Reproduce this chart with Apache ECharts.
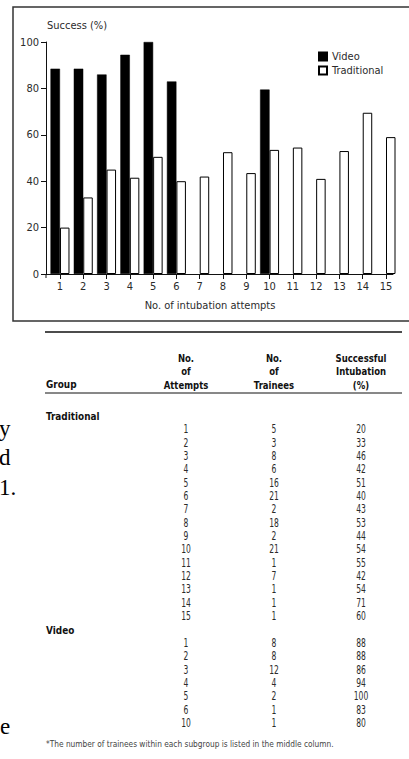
<!DOCTYPE html>
<html>
<head>
<meta charset="utf-8">
<script src="https://cdn.jsdelivr.net/npm/echarts@6/dist/echarts.min.js"></script>
<style>
html,body{margin:0;padding:0;background:#fff;}
#c{width:409px;height:759px;}
</style>
</head>
<body>
<div id="c"></div>
<script>
// ---- chart data ----
const attempts = [1, 2, 3, 4, 5, 6, 7, 8, 9, 10, 11, 12, 13, 14, 15];
const videoSuccess = [88.5, 88.5, 86, 94.5, 100, 83, null, null, null, 79.5, null, null, null, null, null];
const traditionalSuccess = [20, 33, 45, 41.5, 50.5, 40, 42, 52.5, 43.5, 53.5, 54.5, 41, 53, 69.5, 59];
const yTicks = [0, 20, 40, 60, 80, 100];

// ---- table data ----
const tableHeaders = ["Group", "No.\nof\nAttempts", "No.\nof\nTrainees", "Successful\nIntubation\n(%)"];
const tradAttempts = [1, 2, 3, 4, 5, 6, 7, 8, 9, 10, 11, 12, 13, 14, 15];
const tradTrainees = [5, 3, 8, 6, 16, 21, 2, 18, 2, 21, 1, 7, 1, 1, 1];
const tradPercent = [20, 33, 46, 42, 51, 40, 43, 53, 44, 54, 55, 42, 54, 71, 60];
const videoAttempts = [1, 2, 3, 4, 5, 6, 10];
const videoTrainees = [8, 8, 12, 4, 2, 1, 1];
const videoPercent = [88, 88, 86, 94, 100, 83, 80];
const footnote = "*The number of trainees within each subgroup is listed in the middle column.";
const strayText = ["y", "d", "1.", "e"];

const SANS = "'Liberation Sans Narrow', 'DejaVu Sans Condensed', 'Liberation Sans', sans-serif";
const SERIF = "'Liberation Serif', 'DejaVu Serif', serif";
const TXT = '#2b2b2b';

const chart = echarts.init(document.getElementById('c'), null, {renderer: 'svg'});

const graphics = [];
// chart frame
graphics.push({type: 'rect', shape: {x: 13, y: 7, width: 420, height: 314}, style: {fill: 'none', stroke: '#333', lineWidth: 1.5}, z: 0});
graphics.push({type: 'text', x: 47, y: 25, style: {text: 'Success (%)', font: '11px ' + SANS, fill: TXT, align: 'left', verticalAlign: 'middle'}});
graphics.push({type: 'text', x: 210, y: 305, style: {text: 'No. of intubation attempts', font: '11px ' + SANS, fill: TXT, align: 'center', verticalAlign: 'middle'}});
// short extension of the y axis below zero
graphics.push({type: 'line', shape: {x1: 46, y1: 274, x2: 46, y2: 278}, style: {stroke: '#111', lineWidth: 1}});

// table rules
graphics.push({type: 'line', shape: {x1: 45, y1: 332, x2: 402, y2: 332}, style: {stroke: '#111', lineWidth: 1.5}});
graphics.push({type: 'line', shape: {x1: 45, y1: 393, x2: 402, y2: 393}, style: {stroke: '#111', lineWidth: 1}});

const colX = [46, 186, 274, 361];
const boldFont = 'bold 11px ' + SANS;
const numFont = '13px ' + SANS;
const NUM_SX = 0.65;
graphics.push({type: 'text', x: colX[0], y: 384, scaleX: 0.9, style: {text: tableHeaders[0], font: boldFont, fill: '#111', align: 'left', verticalAlign: 'middle'}});
for (let k = 1; k < 4; k++) {
  graphics.push({type: 'text', x: colX[k], y: 391, scaleX: 0.86, style: {text: tableHeaders[k], font: boldFont, fill: '#111', align: 'center', verticalAlign: 'bottom', lineHeight: 13.5}});
}
graphics.push({type: 'text', x: colX[0], y: 416, scaleX: 0.9, style: {text: 'Traditional', font: boldFont, fill: '#111', align: 'left', verticalAlign: 'middle'}});
tradAttempts.forEach((a, i) => {
  const y = 429 + i * 13.36;
  [a, tradTrainees[i], tradPercent[i]].forEach((v, k) => {
    graphics.push({type: 'text', x: colX[k + 1], y: y, scaleX: NUM_SX, style: {text: String(v), font: numFont, fill: TXT, align: 'center', verticalAlign: 'middle'}});
  });
});
graphics.push({type: 'text', x: colX[0], y: 630, scaleX: 0.9, style: {text: 'Video', font: boldFont, fill: '#111', align: 'left', verticalAlign: 'middle'}});
videoAttempts.forEach((a, i) => {
  const y = 642.7 + i * 13.33;
  [a, videoTrainees[i], videoPercent[i]].forEach((v, k) => {
    graphics.push({type: 'text', x: colX[k + 1], y: y, scaleX: NUM_SX, style: {text: String(v), font: numFont, fill: TXT, align: 'center', verticalAlign: 'middle'}});
  });
});
graphics.push({type: 'text', x: 46, y: 744, scaleX: 0.87, style: {text: footnote, font: '9.5px ' + SANS, fill: '#444', align: 'left', verticalAlign: 'middle'}});

// stray body text fragments at the left edge
const strayPos = [[-1, 417], [-1, 446], [-1, 476], [0, 715]];
strayText.forEach((t, i) => {
  graphics.push({type: 'text', x: strayPos[i][0], y: strayPos[i][1], style: {text: t, font: '23px ' + SERIF, fill: '#000', align: 'left', verticalAlign: 'top'}});
});

const option = {
  animation: false,
  backgroundColor: '#fff',
  textStyle: {fontFamily: SANS},
  grid: {left: 46, top: 42, width: 347, height: 232, containLabel: false},
  legend: {
    orient: 'vertical', left: 318, top: 51, padding: 0, itemWidth: 8, itemHeight: 8, itemGap: 3,
    icon: 'rect',
    textStyle: {fontSize: 11, color: TXT, fontFamily: SANS},
    data: ['Video', 'Traditional']
  },
  xAxis: {
    type: 'value', min: 0.4, max: 15.3,
    axisLine: {show: true, lineStyle: {color: '#111', width: 1}},
    axisTick: {show: true, length: 5, lineStyle: {color: '#111'}, customValues: attempts},
    axisLabel: {color: TXT, fontSize: 11, margin: 7, customValues: attempts, fontFamily: SANS},
    splitLine: {show: false}
  },
  yAxis: {
    type: 'value', min: 0, max: 100, interval: 20,
    axisLine: {show: true, lineStyle: {color: '#111', width: 1}},
    axisTick: {show: true, length: 5, lineStyle: {color: '#111'}},
    axisLabel: {color: TXT, fontSize: 11, margin: 7, fontFamily: SANS, customValues: yTicks},
    splitLine: {show: false}
  },
  series: [
    {
      name: 'Video', type: 'bar', barWidth: 9.5, barGap: '0%',
      itemStyle: {color: '#000', borderColor: '#000', borderWidth: 0.5},
      data: attempts.map((a, i) => [a, videoSuccess[i]])
    },
    {
      name: 'Traditional', type: 'bar', barWidth: 9.5, barGap: '0%',
      itemStyle: {color: '#fff', borderColor: '#000', borderWidth: 1},
      data: attempts.map((a, i) => [a, traditionalSuccess[i]])
    }
  ],
  graphic: graphics
};
chart.setOption(option);
</script>
</body>
</html>
